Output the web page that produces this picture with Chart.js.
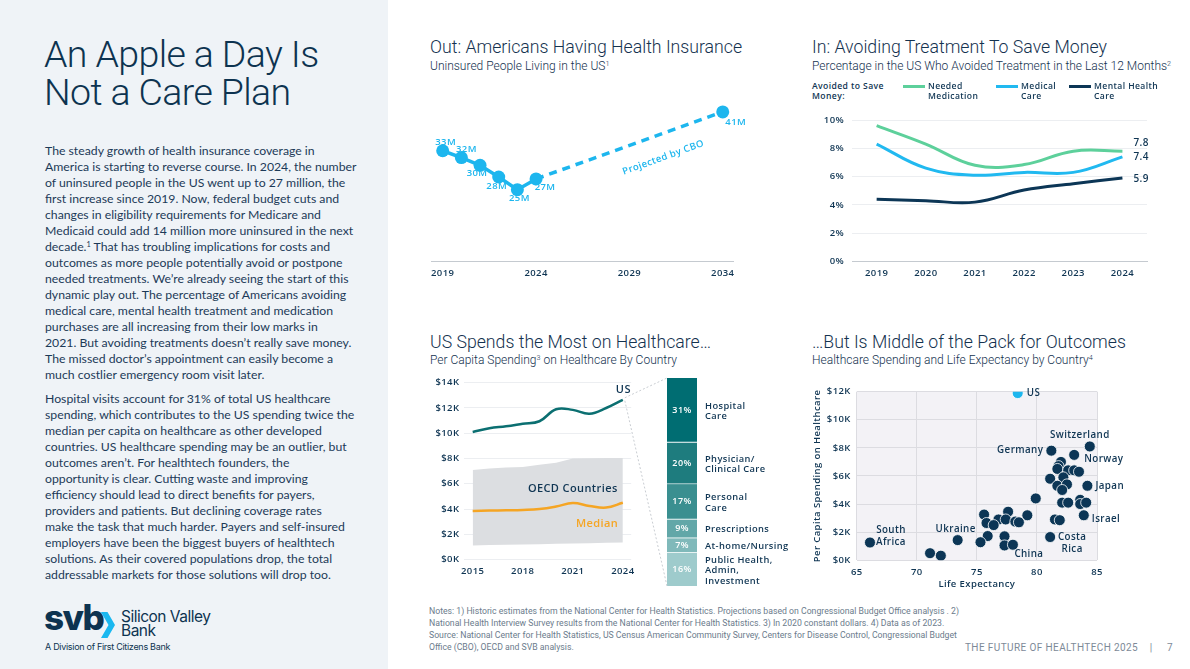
<!DOCTYPE html>
<html>
<head>
<meta charset="utf-8">
<title>The Future of Healthtech 2025</title>
<script src="https://cdn.jsdelivr.net/npm/chart.js@4.4.1/dist/chart.umd.min.js"></script>
<style>
  html, body { margin: 0; padding: 0; }
  body { width: 1190px; height: 669px; position: relative; overflow: hidden; background: #fff; color: #0f3553; font-family: 'Lato', sans-serif; }
  .abs { position: absolute; white-space: nowrap; }
  #side { left: 0; top: 0; width: 388px; height: 669px; background: #eff3f7; }
  #headline { left: 44px; top: 35px; font: 300 37.5px/38.4px 'Roboto', sans-serif; color: #0d3350; letter-spacing: -0.6px; }
  .body { left: 45px; font: 12.25px/16px 'Lato', sans-serif; color: #1c3a58; }
  .h2 { font: 300 17.7px/20px 'Roboto', sans-serif; color: #14324f; }
  .h3 { font: 300 12px/14px 'Roboto', sans-serif; color: #14324f; }
  sup { font-size: 60%; line-height: 0; vertical-align: 0.6em; }
  .box { position: absolute; }
  .legend { font: 600 8.6px/10px 'Open Sans', sans-serif; color: #0f3553; letter-spacing: 0.4px; }
  .swatch { position: absolute; top: 4px; width: 22px; height: 3px; }
  #svb { left: 44px; top: 597px; font: 800 35px/40px 'Inter', sans-serif; color: #0d3350; letter-spacing: -1.6px; }
  #svbname { left: 121px; top: 610px; font: 400 15.5px/14px 'Inter', sans-serif; color: #0d3350; letter-spacing: -0.5px; }
  #division { left: 45px; top: 641px; font: 400 9px/12px 'Inter', sans-serif; color: #0d3350; letter-spacing: -0.3px; }
  .notes { left: 429px; font: 400 8.7px/12px 'Roboto', sans-serif; color: #6b7b8c; }
  #folio { left: 965px; top: 641px; font: 400 10px/14px 'Roboto', sans-serif; color: #7d8a98; letter-spacing: 0.4px; }
</style>
</head>
<body>
<div class="abs" id="side"></div>
<div class="abs" id="headline">An Apple a Day Is<br>Not a Care Plan</div>

<div class="abs body" style="top:143px">The steady growth of health insurance coverage in<br>America is starting to reverse course. In 2024, the number<br>of uninsured people in the US went up to 27 million, the<br>first increase since 2019. Now, federal budget cuts and<br>changes in eligibility requirements for Medicare and<br>Medicaid could add 14 million more uninsured in the next<br>decade.<sup>1</sup> That has troubling implications for costs and<br>outcomes as more people potentially avoid or postpone<br>needed treatments. We’re already seeing the start of this<br>dynamic play out. The percentage of Americans avoiding<br>medical care, mental health treatment and medication<br>purchases are all increasing from their low marks in<br>2021. But avoiding treatments doesn’t really save money.<br>The missed doctor’s appointment can easily become a<br>much costlier emergency room visit later.</div>

<div class="abs body" style="top:391px">Hospital visits account for 31% of total US healthcare<br>spending, which contributes to the US spending twice the<br>median per capita on healthcare as other developed<br>countries. US healthcare spending may be an outlier, but<br>outcomes aren’t. For healthtech founders, the<br>opportunity is clear. Cutting waste and improving<br>efficiency should lead to direct benefits for payers,<br>providers and patients. But declining coverage rates<br>make the task that much harder. Payers and self-insured<br>employers have been the biggest buyers of healthtech<br>solutions. As their covered populations drop, the total<br>addressable markets for those solutions will drop too.</div>

<div class="abs" id="svb">svb</div>
<svg class="abs" style="left:101px; top:612px" width="15" height="26" viewBox="0 0 15 26">
  <polygon points="0,0 6.5,0 14,13 6.5,26 0,26 7.5,13" fill="#1ab8f0"/>
</svg>
<div class="abs" id="svbname">Silicon Valley<br>Bank</div>
<div class="abs" id="division">A Division of First Citizens Bank</div>

<!-- chart titles -->
<div class="abs h2" style="left:430px; top:37px">Out: Americans Having Health Insurance</div>
<div class="abs h3" style="left:430px; top:59px">Uninsured People Living in the US<sup>1</sup></div>
<div class="abs h2" style="left:812px; top:37px">In: Avoiding Treatment To Save Money</div>
<div class="abs h3" style="left:812px; top:59px">Percentage in the US Who Avoided Treatment in the Last 12 Months<sup>2</sup></div>
<div class="abs h2" style="left:430px; top:332px">US Spends the Most on Healthcare…</div>
<div class="abs h3" style="left:430px; top:353px">Per Capita Spending<sup>3</sup> on Healthcare By Country</div>
<div class="abs h2" style="left:812px; top:332px">…But Is Middle of the Pack for Outcomes</div>
<div class="abs h3" style="left:812px; top:353px">Healthcare Spending and Life Expectancy by Country<sup>4</sup></div>

<div class="abs legend" id="avoidLegend" style="left:812px; top:81px">Avoided to Save<br>Money:</div>

<div class="box" style="left:425px; top:80px; width:340px; height:205px"><canvas id="insCanvas"></canvas></div>
<div class="box" style="left:805px; top:100px; width:375px; height:185px"><canvas id="avoidCanvas"></canvas></div>
<div class="box" style="left:425px; top:372px; width:215px; height:218px"><canvas id="spendCanvas"></canvas></div>
<div class="box" style="left:620px; top:370px; width:180px; height:222px"><canvas id="shareCanvas"></canvas></div>
<div class="box" style="left:805px; top:380px; width:375px; height:210px"><canvas id="outcomeCanvas"></canvas></div>

<div class="abs notes" style="top:605px">Notes: 1) Historic estimates from the National Center for Health Statistics. Projections based on Congressional Budget Office analysis . 2)<br>National Health Interview Survey results from the National Center for Health Statistics. 3) In 2020 constant dollars. 4) Data as of 2023.</div>
<div class="abs notes" style="top:629px">Source: National Center for Health Statistics, US Census American Community Survey, Centers for Disease Control, Congressional Budget<br>Office (CBO), OECD and SVB analysis.</div>
<div class="abs" id="folio">THE FUTURE OF HEALTHTECH 2025 &nbsp;&nbsp;&nbsp;|&nbsp;&nbsp;&nbsp;&nbsp; 7</div>

<script>
// --- uninsured people (millions) ---
const insYears = [2019, 2020, 2021, 2022, 2023, 2024];
const insActual = [33, 31.6, 30, 27.6, 25, 27.2];
const insProjYears = [2024, 2034];
const insProjected = [27.2, 41];
const insTicks = [2019, 2024, 2029, 2034];

// --- avoided treatment to save money (%) ---
const avoidYears = ['2019', '2020', '2021', '2022', '2023', '2024'];
const avoidMedication = [9.6, 8.3, 6.8, 6.85, 7.8, 7.8];
const avoidMedical = [8.3, 6.6, 6.1, 6.3, 6.3, 7.4];
const avoidMental = [4.4, 4.3, 4.2, 5.05, 5.5, 5.9];

// --- per capita spending ($K) ---
const spendYears = ['2015', '2016', '2017', '2018', '2019', '2020', '2021', '2022', '2023', '2024'];
const spendTickYears = ['2015', '2018', '2021', '2024'];
const usSpend = [10.1, 10.4, 10.55, 10.75, 10.95, 11.9, 11.85, 11.55, 12.0, 12.65];
const oecdMedian = [3.85, 3.88, 3.9, 3.93, 4.0, 4.2, 4.48, 4.25, 4.12, 4.5];
const oecdHigh = [7.1, 7.2, 7.28, 7.33, 7.5, 7.67, 8.0, 8.03, 8.04, 8.05];
const oecdLow = [1.12, 1.15, 1.17, 1.2, 1.22, 1.25, 1.28, 1.3, 1.33, 1.36];

// --- US spending breakdown (%) ---
const shareNames = [['Hospital', 'Care'], ['Physician/', 'Clinical Care'], ['Personal', 'Care'], ['Prescriptions'], ['At-home/Nursing'], ['Public Health,', 'Admin,', 'Investment']];
const spendShares = [31, 20, 17, 9, 7, 16];

// --- spending vs life expectancy by country ---
const countryNames = ['US', 'Switzerland', 'Germany', 'Norway', '', '', '', '', '', '', '', '', '', '', '', 'Japan',
  '', '', '', '', '', '', 'Israel', '', '', 'Costa Rica', '', '', '', '', '', '', '', '', '', '', '', '', '', 'China',
  'Ukraine', 'South Africa', '', ''];
const lifeExpectancy = [78.4, 84.4, 81.2, 83.1, 82.0, 81.8, 81.7, 82.6, 83.1, 83.5, 81.1, 82.2, 81.7, 82.5, 82.1, 84.2,
  79.9, 82.1, 82.6, 83.6, 83.6, 84.1, 83.9, 81.5, 81.9, 81.1, 79.2, 77.6, 75.6, 76.8, 77.4, 78.2, 78.5, 75.8, 76.4, 75.9,
  77.3, 75.3, 77.3, 78.0, 73.4, 66.1, 71.1, 72.0];
const healthSpend = [11.9, 8.1, 7.8, 7.5, 7.0, 6.7, 6.5, 6.4, 6.4, 6.3, 5.8, 5.9, 5.3, 5.4, 5.0, 5.3,
  4.4, 4.1, 4.1, 4.3, 4.0, 4.1, 3.2, 2.9, 2.85, 1.65, 3.2, 3.45, 3.25, 2.9, 2.9, 2.75, 2.7, 2.65, 2.5, 1.72,
  1.7, 1.28, 1.05, 1.1, 1.43, 1.26, 0.5, 0.32];

// styles
const BLUE = '#1db6ee';
const NAVY = '#0c3656';
const TEAL = '#0b6f71';
const ORANGE = '#f5a524';
const INK = '#0f3553';
const avoidColors = ['#5dd09b', '#21b9f0', '#0c3656'];
const avoidNames = [['Needed', 'Medication'], ['Medical', 'Care'], ['Mental Health', 'Care']];
const legendLeft = [903, 996, 1069];
const avoidNudge = [-8, 0, 1];
const shareColors = ['#006d72', '#1e7c7e', '#3a8f90', '#62a7a8', '#80b9ba', '#9ecbcc'];
const insLabelOffsets = [[3, -8], [5, -8], [-3, 8], [-2, 9], [2, 9], [9, 8.5]];
const countryLayout = {
  'US': { align: 'left', dx: 9, dy: 0 },
  'Switzerland': { align: 'center', dx: -10, dy: -11 },
  'Germany': { align: 'right', dx: -8, dy: 0 },
  'Norway': { align: 'left', dx: 10, dy: 4 },
  'Japan': { align: 'left', dx: 8, dy: 0 },
  'Israel': { align: 'left', dx: 8, dy: 4 },
  'Costa Rica': { align: 'center', dx: 22, dy: 0, wrap: true },
  'China': { align: 'center', dx: 16, dy: 9 },
  'Ukraine': { align: 'center', dx: -2, dy: -11 },
  'South Africa': { align: 'center', dx: 21, dy: -12, wrap: true }
};

Chart.defaults.font.family = "'Open Sans', sans-serif";
Chart.defaults.font.size = 9.5;
Chart.defaults.font.weight = '600';
Chart.defaults.color = INK;
Chart.defaults.animation = false;
Chart.defaults.events = [];
Chart.defaults.maintainAspectRatio = false;
Chart.defaults.plugins.legend.display = false;
Chart.defaults.plugins.tooltip.enabled = false;

Chart.register({
  id: 'letterSpacing',
  beforeDraw(chart) { chart.ctx.letterSpacing = '0.4px'; }
});

// legend for the avoided treatment chart
avoidNames.forEach((name, i) => {
  const item = document.createElement('div');
  item.className = 'abs legend';
  item.style.left = legendLeft[i] + 'px';
  item.style.top = '81px';
  item.innerHTML = '<div class="swatch" style="left:0;background:' + avoidColors[i] + '"></div>' +
    '<div style="margin-left:25px">' + name.join('<br>') + '</div>';
  document.body.appendChild(item);
});

const insNotes = {
  id: 'insNotes',
  afterDatasetsDraw(chart) {
    const ctx = chart.ctx;
    ctx.save();
    ctx.font = "600 9.5px 'Open Sans'";
    ctx.fillStyle = BLUE;
    ctx.textAlign = 'center';
    ctx.textBaseline = 'middle';
    chart.getDatasetMeta(0).data.forEach((pt, i) => {
      const [dx, dy] = insLabelOffsets[i];
      ctx.fillText(Math.round(insActual[i]) + 'M', pt.x + dx, pt.y + dy);
    });
    const proj = chart.getDatasetMeta(1).data;
    const a = proj[0], b = proj[1];
    ctx.fillText(Math.round(insProjected[1]) + 'M', b.x + 13, b.y + 10);
    const ang = Math.atan2(b.y - a.y, b.x - a.x);
    const t = 0.64;
    const px = a.x + (b.x - a.x) * t - Math.sin(ang) * 23;
    const py = a.y + (b.y - a.y) * t + Math.cos(ang) * 23;
    ctx.translate(px, py);
    ctx.rotate(ang);
    ctx.fillText('Projected by CBO', 0, 0);
    ctx.restore();
  }
};

new Chart(document.getElementById('insCanvas'), {
  type: 'line',
  data: {
    datasets: [{
      data: insYears.map((x, i) => ({ x, y: insActual[i] })),
      borderColor: BLUE, backgroundColor: BLUE, borderWidth: 3.5,
      pointRadius: 6.5, pointBorderWidth: 0, tension: 0
    }, {
      data: insProjYears.map((x, i) => ({ x, y: insProjected[i] })),
      borderColor: BLUE, backgroundColor: BLUE, borderWidth: 3.5, borderDash: [8, 6],
      pointRadius: [0, 6.5], pointBorderWidth: 0
    }]
  },
  options: {
    layout: { padding: { left: 5, right: 32, top: 10, bottom: 0 } },
    scales: {
      x: {
        type: 'linear', min: 2018.4, max: 2034.55,
        afterBuildTicks: s => { s.ticks = insTicks.map(v => ({ value: v })); },
        grid: { display: false, drawTicks: false },
        border: { color: '#c5cad0' },
        ticks: { padding: 6, callback: v => String(v) }
      },
      y: { display: false, min: 10.2, max: 45.5 }
    }
  },
  plugins: [insNotes]
});

const avoidEndLabels = {
  id: 'avoidEndLabels',
  afterDatasetsDraw(chart) {
    const ctx = chart.ctx;
    ctx.save();
    ctx.font = "600 10px 'Open Sans'";
    ctx.fillStyle = INK;
    ctx.textAlign = 'left';
    ctx.textBaseline = 'middle';
    chart.data.datasets.forEach((ds, i) => {
      const pts = chart.getDatasetMeta(i).data;
      const last = pts[pts.length - 1];
      ctx.fillText(ds.data[ds.data.length - 1].toFixed(1), last.x + 11, last.y + avoidNudge[i]);
    });
    ctx.restore();
  }
};

new Chart(document.getElementById('avoidCanvas'), {
  type: 'line',
  data: {
    labels: avoidYears,
    datasets: [avoidMedication, avoidMedical, avoidMental].map((values, i) => ({
      data: values, borderColor: avoidColors[i], borderWidth: 3, pointRadius: 0, tension: 0.4
    }))
  },
  options: {
    layout: { padding: { left: 12, right: 33, top: 20, bottom: 0 } },
    scales: {
      x: { offset: true, grid: { display: false, drawTicks: false }, border: { color: '#c5cad0' }, ticks: { padding: 6 } },
      y: {
        min: 0, max: 10,
        ticks: { stepSize: 2, padding: 8, callback: v => v + '%' },
        grid: { color: '#eceef1', drawTicks: false },
        border: { display: false }
      }
    }
  },
  plugins: [avoidEndLabels]
});

const spendNotes = {
  id: 'spendNotes',
  afterDatasetsDraw(chart) {
    const ctx = chart.ctx;
    const x = chart.scales.x, y = chart.scales.y;
    ctx.save();
    ctx.textBaseline = 'middle';
    ctx.font = "600 11px 'Open Sans'";
    ctx.fillStyle = INK;
    ctx.textAlign = 'right';
    const last = usSpend.length - 1;
    ctx.fillText('US', x.getPixelForValue(last) + 8, y.getPixelForValue(usSpend[last]) - 10);
    ctx.textAlign = 'center';
    ctx.fillText('OECD Countries', x.getPixelForValue(6), y.getPixelForValue(5.6));
    ctx.fillStyle = ORANGE;
    ctx.fillText('Median', x.getPixelForValue(7.45), y.getPixelForValue(2.85));
    ctx.restore();
  }
};

const spendChart = new Chart(document.getElementById('spendCanvas'), {
  type: 'line',
  data: {
    labels: spendYears,
    datasets: [
      { data: usSpend, borderColor: TEAL, borderWidth: 2.5, pointRadius: 0, tension: 0.4, order: 1 },
      { data: oecdMedian, borderColor: ORANGE, borderWidth: 2.5, pointRadius: 0, tension: 0.4, order: 1 },
      { data: oecdHigh, borderWidth: 0, pointRadius: 0, fill: '+1', backgroundColor: '#dcdee1', order: 3 },
      { data: oecdLow, borderWidth: 0, pointRadius: 0, fill: false, order: 3 }
    ]
  },
  options: {
    layout: { padding: { left: 7, right: 6, top: 10, bottom: 7 } },
    scales: {
      x: {
        offset: true,
        grid: { display: false, drawTicks: false },
        border: { display: false },
        ticks: {
          padding: 6, autoSkip: false, maxRotation: 0,
          callback(v) { const l = this.getLabelForValue(v); return spendTickYears.includes(l) ? l : ''; }
        }
      },
      y: {
        min: 0, max: 14,
        ticks: { stepSize: 2, padding: 5, callback: v => '$' + v + 'K' },
        grid: { color: '#eceef1', drawTicks: false },
        border: { display: false }
      }
    }
  },
  plugins: [spendNotes]
});

const shareNotes = {
  id: 'shareNotes',
  afterDraw(chart) {
    const ctx = chart.ctx;
    const area = chart.chartArea;
    ctx.save();
    // connectors from the US 2024 point to the bar
    const pt = spendChart.getDatasetMeta(0).data[usSpend.length - 1];
    const sr = spendChart.canvas.getBoundingClientRect();
    const br = chart.canvas.getBoundingClientRect();
    const sx = pt.x + sr.left - br.left + 2, sy = pt.y + sr.top - br.top;
    ctx.strokeStyle = '#c9cdd2';
    ctx.lineWidth = 1;
    ctx.setLineDash([2, 2]);
    ctx.beginPath();
    ctx.moveTo(sx, sy - 2); ctx.lineTo(area.left, area.top);
    ctx.moveTo(sx, sy + 1); ctx.lineTo(area.left, area.bottom);
    ctx.stroke();
    ctx.setLineDash([]);
    ctx.textBaseline = 'middle';
    chart.data.datasets.forEach((ds, i) => {
      const bar = chart.getDatasetMeta(i).data[0];
      const mid = (bar.y + bar.base) / 2;
      ctx.font = "600 9px 'Open Sans'";
      ctx.fillStyle = '#ffffff';
      ctx.textAlign = 'center';
      ctx.fillText(spendShares[i] + '%', bar.x, mid);
      ctx.fillStyle = INK;
      ctx.textAlign = 'left';
      ctx.font = "600 9.3px 'Open Sans'";
      const lines = shareNames[i];
      lines.forEach((line, j) => {
        ctx.fillText(line, area.right + 8, mid + 1 + (j - (lines.length - 1) / 2) * 10.5);
      });
    });
    ctx.restore();
  }
};

new Chart(document.getElementById('shareCanvas'), {
  type: 'bar',
  data: {
    labels: ['US'],
    datasets: spendShares.map((v, i) => ({
      data: [v],
      backgroundColor: shareColors[i],
      borderColor: 'rgba(255,255,255,0.55)',
      borderWidth: { top: 0, left: 0, right: 0, bottom: i < spendShares.length - 1 ? 1 : 0 },
      borderSkipped: false,
      barPercentage: 1, categoryPercentage: 1
    }))
  },
  options: {
    layout: { padding: { left: 47, right: 103, top: 8, bottom: 6 } },
    scales: {
      x: { display: false, stacked: true },
      y: { display: false, stacked: true, reverse: true, min: 0, max: 100 }
    }
  },
  plugins: [shareNotes]
});

const plotBackground = {
  id: 'plotBackground',
  beforeDraw(chart) {
    const { ctx, chartArea: a } = chart;
    ctx.save();
    ctx.fillStyle = '#f3f2f6';
    ctx.fillRect(a.left, a.top, a.right - a.left, a.bottom - a.top);
    ctx.restore();
  }
};

const countryNotes = {
  id: 'countryNotes',
  afterDatasetsDraw(chart) {
    const ctx = chart.ctx;
    ctx.save();
    ctx.font = "600 9.8px 'Open Sans'";
    ctx.fillStyle = INK;
    ctx.textBaseline = 'middle';
    chart.getDatasetMeta(0).data.forEach((pt, i) => {
      const name = countryNames[i];
      if (!name) return;
      const l = countryLayout[name];
      ctx.textAlign = l.align;
      const lines = l.wrap ? name.split(' ') : [name];
      lines.forEach((line, j) => ctx.fillText(line, pt.x + l.dx, pt.y + l.dy + j * 12));
    });
    ctx.restore();
  }
};

new Chart(document.getElementById('outcomeCanvas'), {
  type: 'scatter',
  data: {
    datasets: [{
      data: lifeExpectancy.map((x, i) => ({ x, y: healthSpend[i] })),
      pointRadius: 5.5,
      pointBackgroundColor: countryNames.map(n => n === 'US' ? BLUE : NAVY),
      pointBorderColor: '#ffffff',
      pointBorderWidth: 0.8
    }]
  },
  options: {
    layout: { padding: { left: 4, right: 83, top: 10, bottom: 0 } },
    scales: {
      x: {
        min: 65, max: 85,
        ticks: { stepSize: 5, padding: 6 },
        grid: { color: '#dcdce1', drawTicks: false },
        border: { display: false },
        title: { display: true, text: 'Life Expectancy', padding: { top: -5, bottom: 0 } }
      },
      y: {
        min: 0, max: 12,
        ticks: { stepSize: 2, padding: 6, callback: v => '$' + v + 'K' },
        grid: { color: '#dcdce1', drawTicks: false },
        border: { display: false },
        title: { display: true, text: 'Per Capita Spending on Healthcare', padding: { top: 3, bottom: -1 } }
      }
    }
  },
  plugins: [plotBackground, countryNotes]
});
</script>
</body>
</html>
